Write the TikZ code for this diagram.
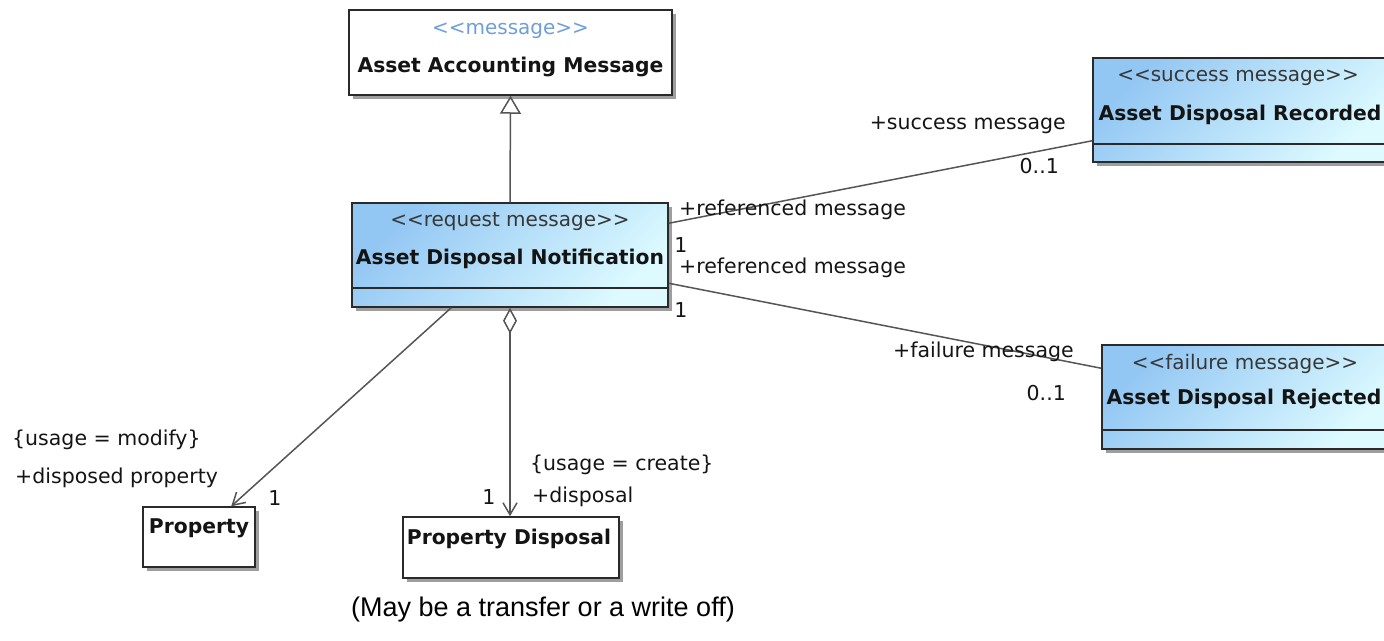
\documentclass[tikz,border=0pt]{standalone}
\usepackage{fontspec}
\setmainfont{DejaVu Sans}
\newfontfamily\capfont{Liberation Sans}
\usetikzlibrary{arrows.meta,shadows,calc}
\definecolor{lineclr}{HTML}{555555}
\definecolor{boxclr}{HTML}{2A2A2A}
\definecolor{blueA}{HTML}{92C6F3}
\definecolor{blueB}{HTML}{DCFAFF}
\definecolor{stereoblue}{HTML}{6F9FD8}
\definecolor{txt}{HTML}{141414}

\begin{document}
\begin{tikzpicture}[x=1pt,y=-1pt,
  classbox/.style={draw=boxclr, line width=1.5pt, inner sep=0pt,
    drop shadow={shadow xshift=3.5pt, shadow yshift=-3.5pt, fill=black!38, opacity=1}},
  plainclass/.style={classbox, fill=white},
  blueclass/.style={classbox, left color=blueA, right color=blueB, shading angle=45},
  stereo/.style={inner sep=0pt, text=txt!85, font=\fontsize{20}{24}\selectfont},
  cname/.style={inner sep=0pt, text=txt, font=\bfseries\fontsize{20.3}{24}\selectfont},
  lbl/.style={inner sep=0pt, text=txt, font=\fontsize{20.5}{24}\selectfont},
  conn/.style={draw=lineclr, line width=1.5pt},
  gen/.style={conn, -{Triangle[open, length=18pt, width=21pt, fill=white]}},
  navig/.style={conn, -{Straight Barb[length=12pt, width=14pt]}},
  aggr/.style={conn, {Diamond[open, length=26pt, width=14pt, fill=white]}-{Straight Barb[length=12pt, width=14pt]}},
  sep/.style={draw=boxclr, line width=1.5pt}
]
\useasboundingbox (0,0) rectangle (1384,640);
\clip (0,0) rectangle (1384,640);

% class boxes
\node[plainclass, minimum width=323pt, minimum height=85pt] (aam) at (510.5,52.5) {};
\node[blueclass, minimum width=316pt, minimum height=104pt] (adn) at (510,255) {};
\node[blueclass, minimum width=295pt, minimum height=104pt] (adr) at (1240.5,110) {};
\node[blueclass, minimum width=284pt, minimum height=104pt] (adrj) at (1244,397) {};
\node[plainclass, minimum width=112pt, minimum height=60pt] (prop) at (199,537) {};
\node[plainclass, minimum width=216pt, minimum height=61pt] (pd) at (511,547.5) {};

% attribute compartments
\draw[sep] ($(adn.south west)+(0,-20)$) -- ($(adn.south east)+(0,-20)$);
\draw[sep] ($(adr.south west)+(0,-19)$) -- ($(adr.south east)+(0,-19)$);
\draw[sep] ($(adrj.south west)+(0,-20)$) -- ($(adrj.south east)+(0,-20)$);

% class texts
\node[stereo, text=stereoblue] (aamS) at (510.5,31) {<{}<message>{}>};
\node[cname] (aamN) at (510.5,67) {Asset Accounting Message};
\node[stereo] (adnS) at (510,222) {<{}<request message>{}>};
\node[cname] (adnN) at (510,259) {Asset Disposal Notification};
\node[stereo] (adrS) at (1238,78) {<{}<success message>{}>};
\node[cname] (adrN) at (1240,115) {Asset Disposal Recorded};
\node[stereo] (adrjS) at (1245,364) {<{}<failure message>{}>};
\node[cname] (adrjN) at (1244,399) {Asset Disposal Rejected};
\node[cname] (propN) at (199,528) {Property};
\node[cname] (pdN) at (509,539) {Property Disposal};

% relationships
\draw[gen] (adn.north) -- (aam.south);
\draw[aggr] (adn.south) -- (adn.south |- pd.north);
\draw[navig] ($(adn.south west)+(100,0)$) -- ($(prop.north west)+(89,0)$);
\draw[conn] ($(adn.north east)+(0,21)$) -- ($(adr.south west)+(0,-22)$);
\draw[conn] ($(adn.north east)+(0,81)$) -- ($(adrj.north west)+(0,24)$);

% association end labels
\node[lbl, anchor=west] (refA) at (679,210) {+referenced message};
\node[lbl] (mulA) at (681,245) {1};
\node[lbl, anchor=west] (refB) at (679,268) {+referenced message};
\node[lbl] (mulB) at (681,310) {1};
\node[lbl, anchor=east] (succ) at (1066,125) {+success message};
\node[lbl, anchor=east] (mulS) at (1059,166) {0..1};
\node[lbl, anchor=east] (fail) at (1074,352) {+failure message};
\node[lbl, anchor=east] (mulF) at (1066,393) {0..1};
\node[lbl, anchor=west] (usM) at (12,440) {\{usage = modify\}};
\node[lbl, anchor=west] (dprop) at (15,478) {+disposed property};
\node[lbl] (mulP) at (275,498) {1};
\node[lbl, anchor=west] (usC) at (530,465) {\{usage = create\}};
\node[lbl, anchor=west] (disp) at (532,497) {+disposal};
\node[lbl] (mulD) at (489,497) {1};

% note under the diagram
\node[inner sep=0pt, text=black, font=\capfont\fontsize{27}{32}\selectfont] (note) at (543,610) {(May be a transfer or a write off)};
\end{tikzpicture}
\end{document}
